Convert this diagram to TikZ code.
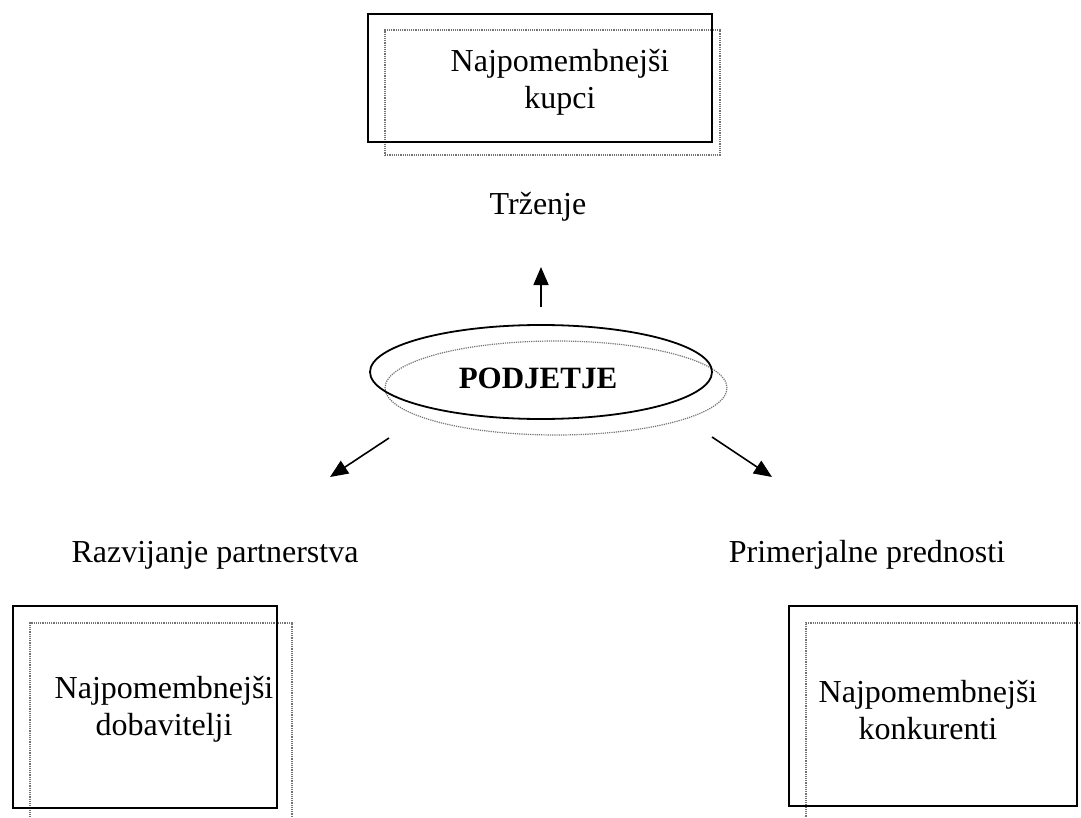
\documentclass[tikz,border=0pt]{standalone}
\usepackage{fontspec}
\setmainfont{Liberation Serif}
\usetikzlibrary{shapes.geometric,arrows.meta}
\begin{document}
\begin{tikzpicture}[x=1pt,y=-1pt,
  blackbox/.style={draw=black,line width=1.8pt,rectangle,inner sep=0pt},
  graybox/.style={draw=black!55,line width=1.2pt,densely dotted,rectangle,inner sep=0pt},
  blackell/.style={draw=black,line width=1.8pt,ellipse,inner sep=0pt,minimum width=342pt,minimum height=94pt},
  grayell/.style={draw=black!55,line width=1.2pt,densely dotted,ellipse,inner sep=0pt,minimum width=342pt,minimum height=94pt},
  lbl/.style={font=\fontsize{32}{37}\selectfont,align=center,inner sep=0pt},
  arr/.style={line width=1.6pt,-{Triangle[length=18pt,width=15pt]}}]
\useasboundingbox (0,0) rectangle (1081,818);
\begin{scope}
\clip (0,0) rectangle (1081,818);
% top box
\node[graybox,minimum width=335pt,minimum height=125pt] (topg) at (552.5,92.5) {};
\node[blackbox,minimum width=344pt,minimum height=128pt] (topb) at (540,78) {};
% bottom left box
\node[graybox,minimum width=262pt,minimum height=220pt] (blg) at (161,733) {};
\node[blackbox,minimum width=264pt,minimum height=202pt] (blb) at (145,707) {};
% bottom right box
\node[graybox,minimum width=280pt,minimum height=220pt] (brg) at (946,733) {};
\node[blackbox,minimum width=288pt,minimum height=200pt] (brb) at (933,706) {};
% ellipse
\node[grayell] (eg) at (556,388) {};
\node[blackell] (eb) at (541,372) {};
\end{scope}
\node[lbl] (toptext) at (560,82) {Najpomembnejši\\kupci};
\node[lbl] (bltext) at (164,709) {Najpomembnejši\\dobavitelji};
\node[lbl] (brtext) at (928,710) {Najpomembnejši\\konkurenti};
\node[lbl,font=\fontsize{31}{37}\selectfont\bfseries] (pod) at (538,378) {PODJETJE};
\node[lbl] (trz) at (538,207) {Trženje};
\node[lbl] (raz) at (215,555) {Razvijanje partnerstva};
\node[lbl] (pri) at (867,555) {Primerjalne prednosti};
% arrows
\coordinate (u1) at (541,307);
\coordinate (u2) at (541,267);
\coordinate (l1) at (389,438);
\coordinate (l2) at (330,477);
\coordinate (r1) at (712,437);
\coordinate (r2) at (772,477);
\draw[arr] (u1) -- (u2);
\draw[arr] (l1) -- (l2);
\draw[arr] (r1) -- (r2);
\end{tikzpicture}
\end{document}
